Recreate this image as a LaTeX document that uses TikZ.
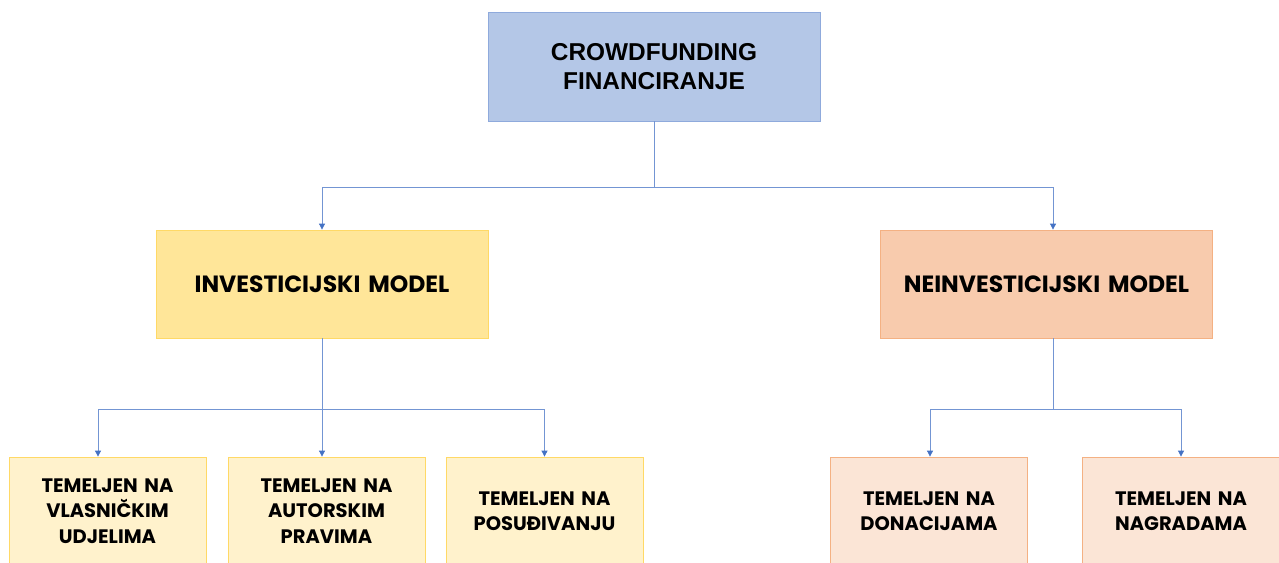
\documentclass[tikz,border=0pt]{standalone}
\usepackage{fontspec}
\setmainfont{Poppins}
\newfontfamily\rootfont{Liberation Sans}
\usetikzlibrary{arrows.meta}

\definecolor{rootfill}{HTML}{B4C7E7}
\definecolor{rootline}{HTML}{8FAADC}
\definecolor{invfill}{HTML}{FFE699}
\definecolor{invleaf}{HTML}{FFF2CC}
\definecolor{invline}{HTML}{FFD966}
\definecolor{neifill}{HTML}{F8CBAD}
\definecolor{neileaf}{HTML}{FBE5D6}
\definecolor{neiline}{HTML}{F4B183}
\definecolor{linkblue}{HTML}{4472C4}

\begin{document}
\begin{tikzpicture}[
  x=1pt, y=-1pt,
  every node/.style={align=center,inner sep=2pt,font=\bfseries},
  box/.style={rectangle,draw,line width=0.8pt,text width=#1},
  model/.style={box=325pt,minimum width=332pt,minimum height=108pt,font=\bfseries\fontsize{23.5}{27}\selectfont},
  leaf/.style={box=190pt,minimum width=197pt,minimum height=108pt,font=\bfseries\fontsize{19.5}{25.5}\selectfont},
  link/.style={draw=linkblue!75,line width=0.8pt,-{Triangle[width=6pt,length=6pt,color=linkblue]}},
  ]
  \useasboundingbox (0,0) rectangle (1279,562);

  % root
  \node[box=320pt,minimum width=332pt,minimum height=109pt,fill=rootfill,draw=rootline,
    font=\rootfont\bfseries\fontsize{24.4}{29}\selectfont] (root) at (654,66.5)
    {CROWDFUNDING\\FINANCIRANJE};

  % models
  \node[model,fill=invfill,draw=invline] (inv) at (322,284) {INVESTICIJSKI MODEL};
  \node[model,fill=neifill,draw=neiline] (nei) at (1046.5,284) {NEINVESTICIJSKI MODEL};

  % leaves
  \node[leaf,fill=invleaf,draw=invline] (vlas) at (107.5,511) {TEMELJEN NA\\VLASNIČKIM\\UDJELIMA};
  \node[leaf,fill=invleaf,draw=invline] (aut) at (326.5,511) {TEMELJEN NA\\AUTORSKIM\\PRAVIMA};
  \node[leaf,fill=invleaf,draw=invline] (pos) at (544.5,511) {TEMELJEN NA\\POSUĐIVANJU};
  \node[leaf,fill=neileaf,draw=neiline] (don) at (929,511) {TEMELJEN NA\\DONACIJAMA};
  \node[leaf,fill=neileaf,draw=neiline] (nag) at (1181,511) {TEMELJEN NA\\NAGRADAMA};

  % branch points
  \coordinate (j0) at (654,187);
  \coordinate (j1) at (322,409);
  \coordinate (j2) at (1053,409);

  \draw[link,-] (root.south) -- (j0);
  \draw[link] (j0) -| (inv.north);
  \draw[link] (j0) -| ([xshift=6.5pt]nei.north);

  \draw[link,-] (inv.south) -- (j1);
  \draw[link] (j1) -| ([xshift=-9.5pt]vlas.north);
  \draw[link] (j1) -- (j1 |- aut.north);
  \draw[link] (j1) -| (pos.north);

  \draw[link,-] ([xshift=6.5pt]nei.south) -- (j2);
  \draw[link] (j2) -| ([xshift=1pt]don.north);
  \draw[link] (j2) -| (nag.north);
\end{tikzpicture}
\end{document}
